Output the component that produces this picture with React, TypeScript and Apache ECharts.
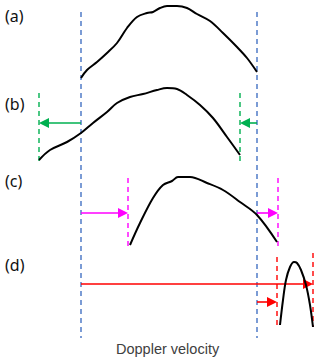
import React, { useEffect, useRef } from "react";
import * as echarts from "echarts";

// Diagram coordinates: x = Doppler velocity position, y = vertical position (top-down)
const curveA: [number, number][] = [
  [81, 78], [87, 70], [97, 62], [107, 53], [117, 43], [127, 28], [137, 17], [147, 13],
  [153, 12], [160, 8], [167, 6], [177, 6], [187, 8], [197, 14], [210, 21], [223, 33],
  [237, 47], [247, 58], [257, 72],
];
const curveB: [number, number][] = [
  [39, 160], [50, 150], [67, 142], [81, 133], [93, 123], [107, 112], [117, 103], [130, 97],
  [143, 94], [157, 90], [167, 88], [177, 89], [187, 95], [200, 105], [213, 118], [227, 137],
  [240, 155],
];
const curveC: [number, number][] = [
  [130, 245], [140, 223], [153, 198], [163, 185], [172, 181], [178, 177], [190, 177],
  [207, 183], [223, 190], [240, 202], [257, 215], [277, 242],
];
const curveD: [number, number][] = [
  [280, 325], [283, 300], [286, 280], [290, 267], [294, 262], [297, 263], [301, 270],
  [306, 285], [310, 305], [313, 327],
];

// vertical dashed markers: [x, yTop, yBottom, color]
const markers: [number, number, number, string][] = [
  [81, 12, 338, "#4472C4"],
  [257, 12, 338, "#4472C4"],
  [39, 93, 162, "#00B050"],
  [240, 93, 162, "#00B050"],
  [128, 178, 247, "#FF00FF"],
  [278, 178, 247, "#FF00FF"],
  [277, 257, 327, "#FF0000"],
  [313, 253, 327, "#FF0000"],
];

// arrows: [xFrom, xTo, y, color]
const arrows: [number, number, number, string][] = [
  [81, 44, 123, "#00B050"],
  [257, 245, 123, "#00B050"],
  [81, 123, 213, "#FF00FF"],
  [257, 273, 213, "#FF00FF"],
  [81, 308, 284, "#FF0000"],
  [257, 272, 302, "#FF0000"],
];

const panelLabels: [string, number][] = [
  ["(a)", 19],
  ["(b)", 107],
  ["(c)", 184],
  ["(d)", 268],
];
const axisTitle = "Doppler velocity";

export default function App() {
  const ref = useRef<HTMLDivElement>(null);
  useEffect(() => {
    if (!ref.current) return;
    const chart = echarts.init(ref.current, null, { renderer: "svg" });
    const curveSeries = [curveA, curveB, curveC, curveD].map((d) => ({
      type: "line",
      data: d,
      smooth: 0.35,
      showSymbol: false,
      lineStyle: { color: "#000", width: 2 },
      z: 5,
    }));
    const markerSeries = markers.map(([x, y1, y2, c]) => ({
      type: "line",
      data: [[x, y1], [x, y2]],
      showSymbol: false,
      lineStyle: { color: c, width: 1.4, type: [5, 4] },
      z: 3,
    }));
    const arrowSeries = {
      type: "lines",
      coordinateSystem: "cartesian2d",
      symbol: ["none", "triangle"],
      symbolSize: [8, 10],
      z: 4,
      data: arrows.map(([x1, x2, y, c]) => ({
        coords: [[x1, y], [x2, y]],
        lineStyle: { color: c, width: 1.6, opacity: 1 },
        itemStyle: { color: c, opacity: 1 },
      })),
    };
    chart.setOption({
      animation: false,
      grid: { left: 0, right: 0, top: 0, bottom: 0 },
      xAxis: { type: "value", min: 0, max: 320, show: false },
      yAxis: { type: "value", min: 0, max: 364, inverse: true, show: false },
      series: [...markerSeries, arrowSeries, ...curveSeries],
      graphic: [
        ...panelLabels.map(([t, y]) => ({
          type: "text",
          left: 5,
          top: y - 11,
          style: { text: t, fontSize: 16, fontFamily: "Noto Sans", fill: "#111" },
        })),
        {
          type: "text",
          left: 116,
          top: 341,
          style: { text: axisTitle, fontSize: 14.5, fontFamily: "Liberation Sans", fill: "#404040" },
        },
      ],
    });
    return () => chart.dispose();
  }, []);
  return (
    <div
      ref={ref}
      style={{ position: "fixed", left: 0, top: 0, width: 320, height: 364, background: "#fff" }}
    />
  );
}
